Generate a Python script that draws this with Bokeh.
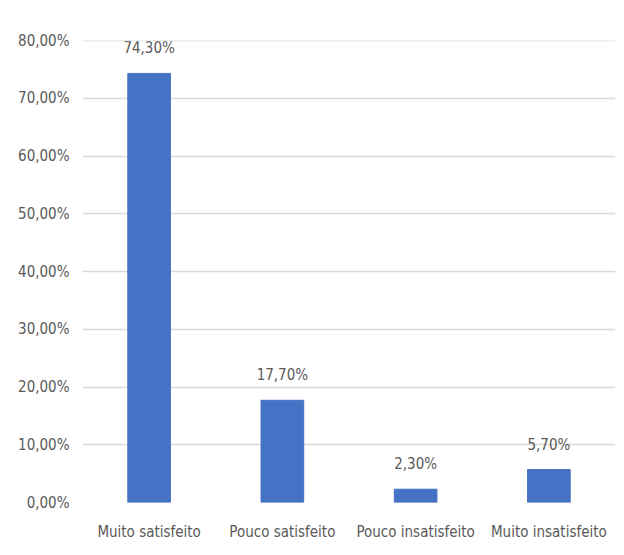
from bokeh.plotting import figure
from bokeh.models import ColumnDataSource, FixedTicker, Range1d, FactorRange, Span
from bokeh.core.properties import value
from bokeh.embed import file_html
from bokeh.resources import INLINE

categories = ["Muito satisfeito", "Pouco satisfeito", "Pouco insatisfeito", "Muito insatisfeito"]
values = [74.3, 17.7, 2.3, 5.7]
y_ticks = [0, 10, 20, 30, 40, 50, 60, 70, 80]
y_tick_labels = ["0,00%", "10,00%", "20,00%", "30,00%", "40,00%", "50,00%", "60,00%", "70,00%", "80,00%"]

FONT = "DejaVu Sans Condensed"
TXT = "#595959"
GRID = "#d9d9d9"

labels = [("%.2f%%" % v).replace(".", ",") for v in values]
src = ColumnDataSource(dict(cat=categories, val=values, lab=labels))

p = figure(x_range=FactorRange(*categories, range_padding=0), y_range=Range1d(0, 80),
           width=618, height=548, output_backend="svg", toolbar_location=None,
           min_border_left=82, min_border_right=3, min_border_top=40, min_border_bottom=46)
p.outline_line_color = None
p.vbar(x="cat", top="val", width=0.32, source=src, color="#4472C4")

p.text(x="cat", y="val", text="lab", source=src, text_align="center",
       text_baseline="bottom", y_offset=-16, text_font=value("'DejaVu Sans Condensed'"),
       text_font_size="15px", text_color=TXT)
p.add_layout(Span(location=y_ticks[-1], dimension="width", line_color=GRID, line_width=1.5))

p.yaxis.ticker = FixedTicker(ticks=y_ticks)
p.yaxis.major_label_overrides = {t: l for t, l in zip(y_ticks, y_tick_labels)}
for ax in (p.xaxis, p.yaxis):
    ax.axis_line_color = None
    ax.major_tick_line_color = None
    ax.minor_tick_line_color = None
    ax.major_label_text_font = FONT
    ax.major_label_text_font_size = "15px"
    ax.major_label_text_color = TXT
p.yaxis.major_label_standoff = 7
p.xaxis.major_label_standoff = 14
p.xgrid.grid_line_color = None
p.ygrid.grid_line_color = GRID
p.ygrid.grid_line_width = 1.5

open("out.html", "w").write(file_html(p, INLINE))
